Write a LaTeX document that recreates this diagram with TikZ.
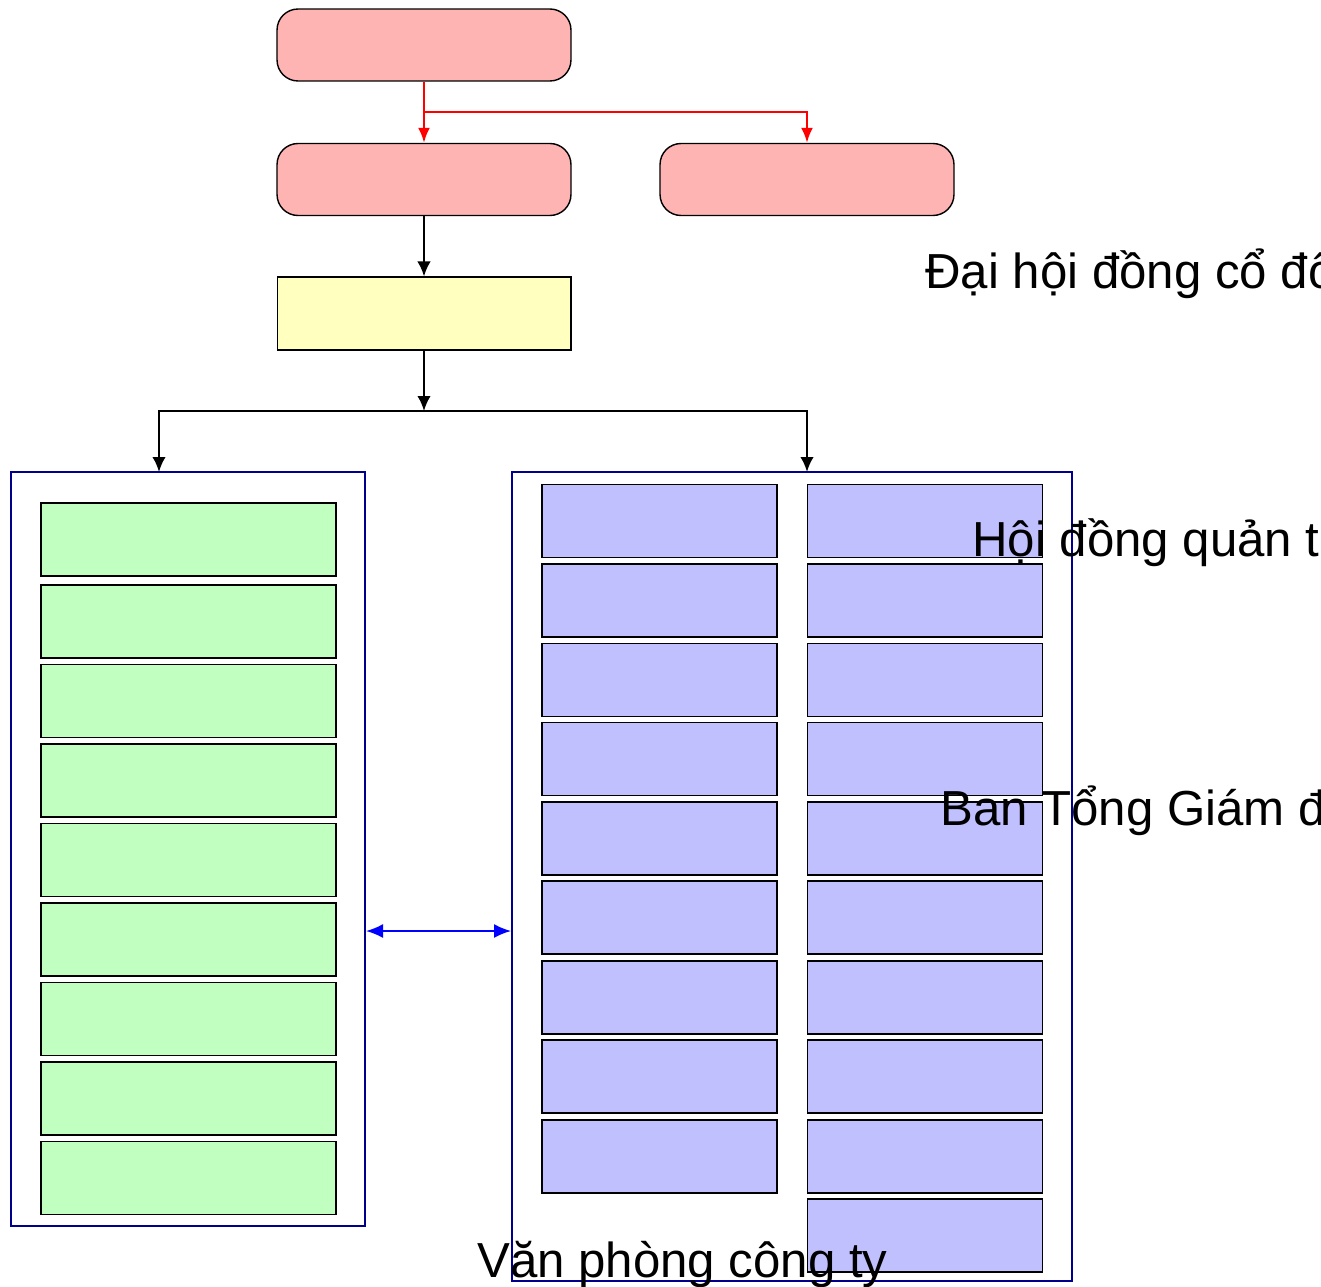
\documentclass[tikz,border=0pt]{standalone}
\usepackage{fontspec}
\setmainfont{Liberation Sans}
\usetikzlibrary{arrows.meta}

\definecolor{hopdo}{RGB}{255,180,180}
\definecolor{hopvang}{RGB}{255,255,192}
\definecolor{hopxanh}{RGB}{192,255,192}
\definecolor{hoptim}{RGB}{192,192,255}
\definecolor{vienkhung}{RGB}{0,0,140}

\tikzset{
  hopbo/.style={draw=black, line width=0.8pt, rounded corners=0.42cm, fill=hopdo,
    minimum width=5.88cm, minimum height=1.44cm},
  hopdh/.style={draw=black, line width=0.6pt, fill=hopvang,
    minimum width=5.88cm, minimum height=1.46cm},
  khung/.style={draw=vienkhung, line width=1.2pt},
  phongxanh/.style={draw=black, line width=0.7pt, fill=hopxanh,
    minimum width=5.9cm, minimum height=1.46cm},
  phongtim/.style={draw=black, line width=0.7pt, fill=hoptim,
    minimum width=4.7cm, minimum height=1.46cm},
  muiden/.style={-{Latex[length=0.3cm,width=0.27cm]}, line width=1.3pt, black},
  muido/.style={-{Latex[length=0.3cm,width=0.24cm]}, line width=1.3pt, red},
  muixanh/.style={{Latex[length=0.34cm,width=0.28cm]}-{Latex[length=0.34cm,width=0.28cm]},
    line width=1pt, blue},
  nhan/.style={anchor=base west, inner sep=0pt, font=\fontsize{28}{34}\selectfont}
}

\begin{document}
\begin{tikzpicture}[x=0.02cm, y=-0.02cm]
  \useasboundingbox (0,0) rectangle (1321,1287);

  % cac hop phia tren
  \node[hopbo] (dhcd) at (424,45) {};
  \node[hopbo] (hdqt) at (424,179.5) {};
  \node[hopbo] (bks) at (807,179.5) {};
  \node[hopdh] (tgd) at (424,313.5) {};

  % hai khung lon
  \node[khung, minimum width=7.08cm, minimum height=15.08cm] (trai) at (188,849) {};
  \node[khung, minimum width=11.2cm, minimum height=16.18cm] (phai) at (792,876.5) {};

  % cac phong ben trai
  \foreach \y [count=\i] in {539.5,621.5,701,780.5,860,939.5,1019,1098.5,1178}
    \node[phongxanh] (xanh\i) at (188.5,\y) {};

  % cac phong ben phai
  \foreach \y [count=\i] in {521,600.5,680,759,838.5,917.5,997.5,1076.5,1156.5}
    \node[phongtim] (timA\i) at (659.5,\y) {};
  \foreach \y [count=\i] in {521,600.5,680,759,838.5,917.5,997.5,1076.5,1156.5,1235.5}
    \node[phongtim] (timB\i) at (925,\y) {};

  % duong noi
  \coordinate (re1) at (424,112);
  \coordinate (re2) at (424,411);
  \coordinate (vaotrai) at (159,472);
  \coordinate (vaophai) at (807,472);
  \coordinate (ngang) at (440,931);

  \draw[muido] (dhcd.south) -- (hdqt.north);
  \draw[muido] (re1) -| (bks.north);
  \draw[muiden] (hdqt.south) -- (tgd.north);
  \draw[muiden] (tgd.south) -- (re2);
  \draw[muiden] (re2) -| (vaotrai);
  \draw[muiden] (re2) -| (vaophai);
  \draw[muixanh] (trai.east |- ngang) -- (phai.west |- ngang);

  % chu
  \node[nhan] (t1) at (925,289) {Đại hội đồng cổ đông};
  \node[nhan] (t2) at (972,556) {Hội đồng quản trị};
  \node[nhan] (t3) at (940,825) {Ban Tổng Giám đốc};
  \node[nhan] (t4) at (477,1277) {Văn phòng công ty};
\end{tikzpicture}
\end{document}
